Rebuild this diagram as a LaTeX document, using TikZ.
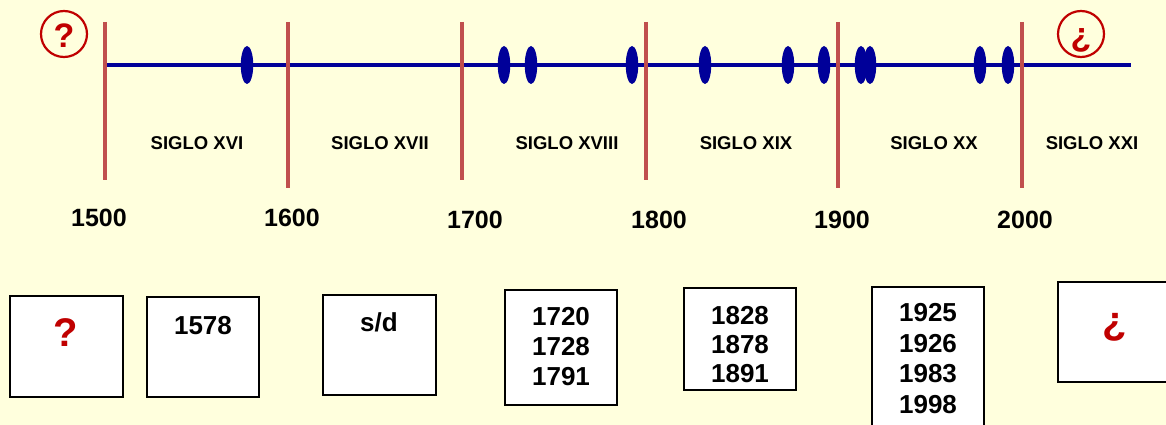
\documentclass[tikz,border=0pt]{standalone}
\usepackage{fontspec}
\setmainfont{Liberation Sans}
\usetikzlibrary{shapes.geometric}
\definecolor{bg}{RGB}{255,255,221}
\definecolor{tlblue}{RGB}{0,0,153}
\definecolor{tlred}{RGB}{192,80,77}
\definecolor{qred}{RGB}{192,0,0}
\begin{document}
\begin{tikzpicture}[x=1pt,y=-1pt,
  axis/.style={draw=tlblue,line width=4pt},
  century/.style={draw=tlred,line width=4.5pt},
  ev/.style={ellipse,fill=tlblue,minimum width=12.5pt,minimum height=38pt,inner sep=0pt},
  siglo/.style={font=\bfseries\fontsize{18.5}{20}\selectfont,text=black,inner sep=0pt},
  year/.style={font=\bfseries\fontsize{25}{28}\selectfont,text=black,inner sep=0pt},
  qcirc/.style={circle,draw=qred,line width=2.2pt,minimum size=46pt,inner sep=0pt},
  qtxt/.style={font=\bfseries\fontsize{34}{36}\selectfont,text=qred,inner sep=0pt},
  bigq/.style={font=\bfseries\fontsize{40}{42}\selectfont,text=qred,inner sep=0pt},
  boxnum/.style={font=\bfseries\fontsize{26}{30}\selectfont,text=black,inner sep=0pt,align=center},
  yearbox/.style={draw=black,fill=white,line width=2pt}
]
\clip (0,0) rectangle (1166,425);
\fill[bg] (0,0) rectangle (1166,425);

% axis
\coordinate (axL) at (107,65);
\coordinate (axR) at (1131,65);
\draw[axis] (axL) -- (axR);

% century lines
\foreach \nm/\x/\b in {c15/105/180,c16/288/188,c17/462/180,c18/646/180,c19/838/188,c20/1022/188}{
  \coordinate (\nm t) at (\x,22);
  \coordinate (\nm b) at (\x,\b);
  \draw[century] (\nm t) -- (\nm b);
}

% events
\foreach \nm/\x in {e1578/247,e1720/504,e1728/531,e1791/632,e1828/705,e1878/788,e1891/824,e1925/861,e1926/870,e1983/980,e1998/1008}{
  \node[ev] (\nm) at (\x,65) {};
}

% circled question marks
\node[qcirc] (qc1) at (64,34) {};
\node[qtxt] (qt1) at (64,35.5) {?};
\node[qcirc] (qc2) at (1081,34) {};
\node[qtxt] (qt2) at (1081,40.5) {¿};

% century names
\node[siglo] (s16) at (197,143) {SIGLO XVI};
\node[siglo] (s17) at (380,143) {SIGLO XVII};
\node[siglo] (s18) at (567,143) {SIGLO XVIII};
\node[siglo] (s19) at (746,143) {SIGLO XIX};
\node[siglo] (s20) at (934,143) {SIGLO XX};
\node[siglo] (s21) at (1092,143) {SIGLO XXI};

% years
\node[year] (y1500) at (99,218) {1500};
\node[year] (y1600) at (292,218) {1600};
\node[year] (y1700) at (475,220) {1700};
\node[year] (y1800) at (659,220) {1800};
\node[year] (y1900) at (842,220) {1900};
\node[year] (y2000) at (1025,220) {2000};

% boxes
\draw[yearbox] (10,296) rectangle (123,397);
\draw[yearbox] (147,297) rectangle (259,397);
\draw[yearbox] (323,295) rectangle (436,395);
\draw[yearbox] (505,290) rectangle (617,405);
\draw[yearbox] (684,288) rectangle (796,390);
\draw[yearbox] (872,287) rectangle (984,440);
\draw[yearbox] (1058,282) rectangle (1180,382);

\node[bigq] (b1t) at (66,333) {?};
\node[boxnum] (b2t) at (203,326) {1578};
\node[boxnum] (b3t) at (379,322) {s/d};
\node[boxnum] (b4t) at (561,347) {1720\\1728\\1791};
\node[boxnum,font=\bfseries\fontsize{26}{29}\selectfont] (b5t) at (740,345) {1828\\1878\\1891};
\node[boxnum,font=\bfseries\fontsize{26}{30.7}\selectfont] (b6t) at (928,358.5) {1925\\1926\\1983\\1998};
\node[bigq] (b7t) at (1115,327) {¿};
\end{tikzpicture}
\end{document}
